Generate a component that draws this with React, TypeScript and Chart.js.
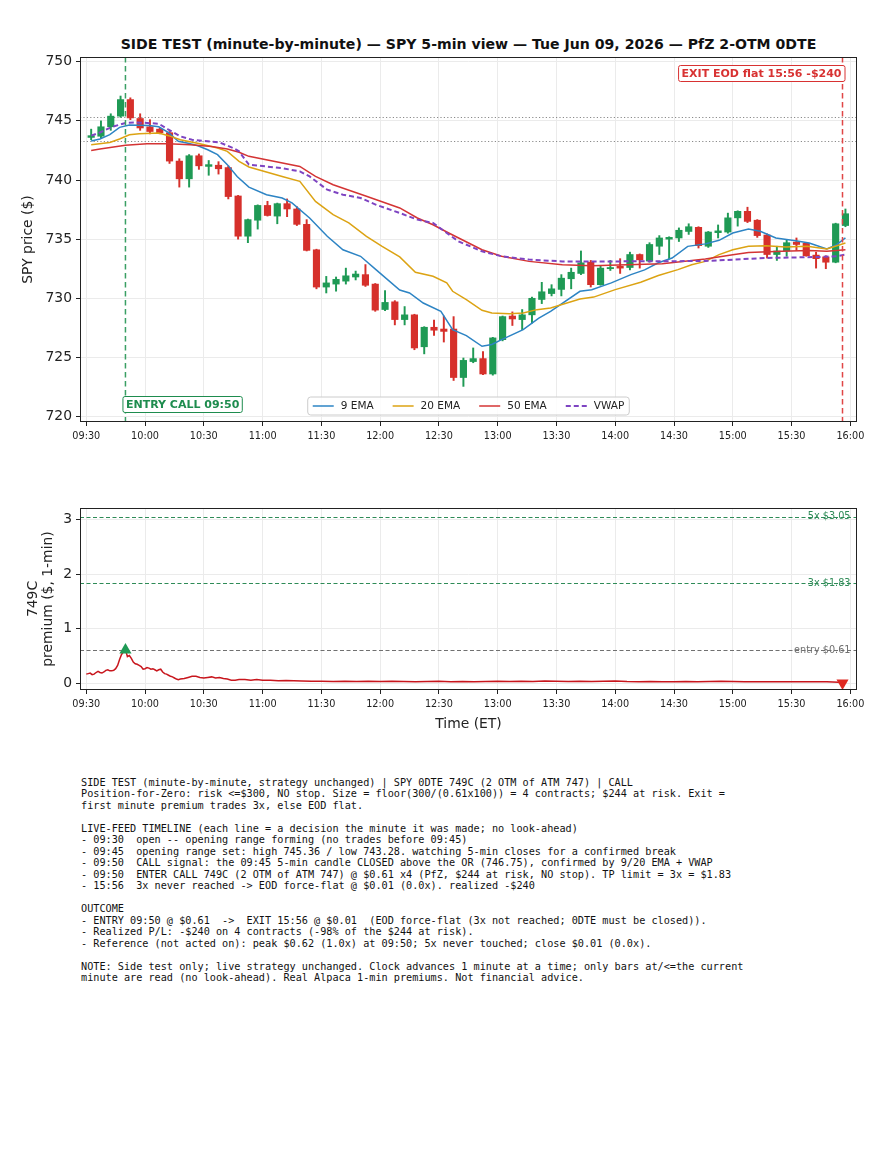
import React, { useEffect, useRef } from 'react';
import { Chart, registerables } from 'chart.js';

Chart.register(...registerables);

const FONT = "'DejaVu Sans', 'Liberation Sans', sans-serif";
const MONO = "'DejaVu Sans Mono', 'Liberation Mono', monospace";

const TITLE = 'SIDE TEST (minute-by-minute) — SPY 5-min view — Tue Jun 09, 2026 — PfZ 2-OTM 0DTE';

// ---- 5-min candles (bar start times) ----
const BAR_TIMES = [
  '09:30', '09:35', '09:40', '09:45', '09:50', '09:55', '10:00', '10:05', '10:10', '10:15', '10:20', '10:25',
  '10:30', '10:35', '10:40', '10:45', '10:50', '10:55', '11:00', '11:05', '11:10', '11:15', '11:20', '11:25',
  '11:30', '11:35', '11:40', '11:45', '11:50', '11:55', '12:00', '12:05', '12:10', '12:15', '12:20', '12:25',
  '12:30', '12:35', '12:40', '12:45', '12:50', '12:55', '13:00', '13:05', '13:10', '13:15', '13:20', '13:25',
  '13:30', '13:35', '13:40', '13:45', '13:50', '13:55', '14:00', '14:05', '14:10', '14:15', '14:20', '14:25',
  '14:30', '14:35', '14:40', '14:45', '14:50', '14:55', '15:00', '15:05', '15:10', '15:15', '15:20', '15:25',
  '15:30', '15:35', '15:40', '15:45', '15:50', '15:55',
];
const OPEN = [
  743.6, 743.7, 744.5, 745.4, 746.8, 745.2, 744.5, 744.3, 744.0, 741.6, 740.1, 742.05,
  741.15, 741.25, 741.05, 738.65, 735.25, 736.6, 737.85, 736.95, 738.0, 737.55, 736.25, 734.1,
  730.95, 731.2, 731.45, 731.8, 732.0, 731.2, 729.05, 729.7, 728.2, 728.6, 725.9, 727.55,
  727.4, 727.4, 723.3, 724.65, 724.9, 723.6, 726.5, 728.5, 728.2, 728.6, 729.9, 730.4,
  730.75, 731.65, 732.1, 733.05, 731.15, 732.5, 732.7, 732.6, 733.7, 733.15, 734.4, 735.0,
  735.1, 735.65, 736.0, 734.4, 735.55, 735.6, 736.8, 737.35, 736.6, 735.35, 733.7, 734.0,
  734.75, 734.65, 733.65, 733.5, 733.05, 736.15,
];
const HIGH = [
  744.3, 745.0, 745.6, 747.1, 746.95, 745.6, 745.1, 744.4, 744.1, 741.8, 742.15, 742.2,
  741.65, 741.55, 741.2, 738.7, 736.7, 737.9, 738.2, 738.05, 738.4, 737.75, 736.65, 734.15,
  731.85, 731.8, 732.55, 732.3, 732.85, 731.25, 730.65, 729.8, 729.3, 728.65, 727.6, 728.15,
  728.5, 728.45, 724.95, 725.8, 725.5, 726.7, 728.5, 728.85, 729.05, 730.1, 731.35, 731.15,
  732.0, 732.55, 734.0, 733.2, 732.7, 733.2, 733.35, 733.9, 733.75, 734.7, 735.3, 735.2,
  735.95, 736.3, 736.05, 735.65, 736.2, 737.2, 737.4, 737.7, 736.65, 735.45, 734.4, 734.95,
  735.1, 734.7, 733.9, 733.6, 736.35, 737.55,
];
const LOW = [
  743.4, 743.5, 744.2, 745.3, 745.1, 744.2, 743.9, 743.9, 741.4, 739.4, 739.4, 740.9,
  740.4, 740.5, 738.4, 735.0, 734.7, 735.85, 736.95, 736.3, 736.9, 736.15, 734.0, 730.8,
  730.45, 730.6, 731.2, 731.55, 731.0, 728.9, 728.95, 727.75, 727.75, 725.65, 725.3, 726.85,
  726.3, 723.05, 722.55, 724.55, 723.55, 723.5, 726.4, 727.7, 727.35, 727.9, 729.55, 730.2,
  730.2, 730.8, 732.0, 730.95, 731.1, 732.35, 732.1, 732.4, 732.55, 733.05, 733.7, 733.3,
  734.8, 735.4, 734.25, 734.3, 735.1, 735.5, 736.1, 736.4, 735.15, 733.4, 733.2, 733.55,
  734.05, 733.55, 732.55, 732.5, 733.0, 736.05,
];
const CLOSE = [
  743.75, 744.5, 745.4, 746.8, 745.25, 744.4, 744.1, 744.0, 741.6, 740.1, 742.05, 741.2,
  741.3, 740.95, 738.6, 735.25, 736.65, 737.85, 737.0, 738.0, 737.55, 736.25, 734.05, 730.95,
  731.3, 731.6, 731.9, 732.05, 731.1, 729.0, 729.65, 728.2, 728.6, 725.8, 727.55, 727.3,
  727.2, 723.3, 724.75, 724.9, 723.6, 726.65, 728.45, 728.25, 728.6, 730.0, 730.55, 730.8,
  731.7, 732.2, 733.0, 731.15, 732.55, 732.6, 732.55, 733.7, 733.25, 734.55, 735.1, 735.15,
  735.75, 736.05, 734.45, 735.6, 735.7, 736.8, 737.35, 736.5, 735.3, 733.7, 734.0, 734.7,
  734.55, 733.6, 733.35, 733.05, 736.3, 737.15,
];

// ---- indicator lines (minutes after 09:30, value) ----
const EMA9_T = [2.5, 7, 12, 17, 22, 27, 32, 37, 42, 47, 52, 57, 62, 67, 72, 77, 83, 92, 100, 105, 114, 123, 131, 140, 148, 160, 165, 172, 181, 187, 194, 202, 207, 212, 223, 231, 237, 252, 258, 268, 278, 285, 292, 299, 307, 316, 323, 330, 338, 344, 352, 362, 369, 378, 383, 387.5];
const EMA9_V = [743.3, 743.47, 743.83, 744.45, 744.65, 744.62, 744.6, 744.5, 744.0, 743.27, 743.1, 742.9, 742.56, 742.14, 741.3, 740.3, 739.4, 738.76, 738.48, 738.06, 736.79, 735.24, 734.1, 733.55, 732.4, 730.7, 730.45, 729.6, 728.9, 727.35, 726.85, 725.94, 726.1, 726.5, 727.35, 728.33, 728.9, 730.59, 730.73, 731.3, 732.0, 732.4, 733.0, 733.4, 734.39, 734.6, 734.9, 735.52, 735.86, 735.66, 735.1, 734.87, 734.68, 734.17, 734.53, 735.1];
const EMA20_T = [2.5, 12, 17, 22, 27, 37, 42, 48, 58, 67, 72, 78, 83, 100, 109, 117, 126, 134, 143, 151, 160, 168, 177, 184, 187, 194, 202, 207, 216, 223, 230, 237, 252, 259, 270, 283, 292, 302, 309, 316, 323, 330, 338, 347, 357, 368, 378, 387.5];
const EMA20_V = [742.98, 743.18, 743.47, 743.83, 743.92, 743.97, 743.75, 743.41, 743.07, 742.7, 742.42, 741.57, 741.1, 740.3, 739.89, 738.19, 737.07, 736.37, 735.24, 734.39, 733.5, 732.2, 731.86, 731.3, 730.59, 729.89, 728.98, 728.76, 728.7, 728.76, 729.04, 729.18, 729.94, 730.1, 730.73, 731.35, 731.92, 732.42, 732.84, 733.12, 733.69, 734.1, 734.39, 734.45, 734.34, 734.39, 734.17, 734.68];
const EMA50_T = [2.5, 7, 20, 31, 42, 53, 64, 72, 78, 83, 109, 117, 126, 143, 160, 169, 177, 185, 202, 212, 226, 243, 258, 276, 294, 316, 330, 338, 355, 369, 378, 387.5];
const EMA50_V = [742.5, 742.62, 742.93, 743.07, 743.07, 742.98, 742.84, 742.62, 742.34, 742.0, 741.15, 740.3, 739.6, 738.62, 737.64, 736.79, 736.22, 735.52, 734.1, 733.55, 733.12, 732.84, 732.76, 732.84, 732.93, 733.33, 733.69, 733.88, 733.97, 734.03, 733.97, 734.1];
const VWAP_T = [2.5, 7, 13, 20, 26, 37, 42, 48, 54, 68, 75, 78, 83, 100, 109, 114, 123, 131, 140, 148, 160, 169, 177, 184, 190, 202, 212, 226, 243, 272, 316, 347, 373, 383, 387.5];
const VWAP_V = [743.75, 744.02, 744.48, 744.82, 744.87, 744.76, 744.25, 743.69, 743.4, 743.18, 742.7, 742.42, 741.3, 741.0, 740.73, 740.3, 739.18, 738.76, 738.48, 737.9, 737.21, 736.65, 736.37, 735.52, 734.81, 733.97, 733.55, 733.27, 733.12, 733.12, 733.15, 733.41, 733.49, 733.55, 733.69];

// ---- option premium, 1-min (minutes after 09:30, $) ----
const PREM_T = [0, 1, 2, 3, 4, 5, 6, 7, 8, 9, 10, 11, 12, 13, 14, 15, 16, 17, 18, 19, 20, 21, 22, 23, 24, 25, 26, 27, 28, 29, 30, 31, 32, 33, 34, 35, 36, 37, 38, 39, 40, 41, 42, 43, 44, 45, 46, 47, 48, 50, 52, 54, 56, 58, 60, 62, 64, 66, 68, 70, 72, 74, 76, 78, 81, 84, 87, 90, 94, 98, 102, 106, 110, 115, 120, 126, 132, 138, 144, 150, 156, 162, 168, 174, 180, 186, 192, 198, 204, 210, 216, 222, 228, 234, 240, 246, 252, 258, 264, 270, 276, 282, 288, 294, 300, 306, 312, 318, 324, 330, 336, 342, 348, 354, 360, 366, 372, 378, 384, 386];
const PREM_V = [0.17, 0.18, 0.19, 0.16, 0.17, 0.2, 0.22, 0.2, 0.19, 0.21, 0.24, 0.25, 0.23, 0.23, 0.24, 0.27, 0.33, 0.44, 0.53, 0.58, 0.62, 0.49, 0.51, 0.46, 0.39, 0.36, 0.35, 0.33, 0.31, 0.26, 0.27, 0.29, 0.28, 0.26, 0.27, 0.25, 0.23, 0.25, 0.26, 0.21, 0.18, 0.17, 0.15, 0.13, 0.12, 0.1, 0.08, 0.07, 0.08, 0.09, 0.11, 0.13, 0.13, 0.11, 0.1, 0.11, 0.12, 0.1, 0.11, 0.09, 0.08, 0.06, 0.06, 0.07, 0.07, 0.06, 0.07, 0.06, 0.06, 0.05, 0.055, 0.05, 0.045, 0.04, 0.04, 0.035, 0.04, 0.035, 0.04, 0.035, 0.04, 0.035, 0.03, 0.035, 0.04, 0.03, 0.035, 0.03, 0.035, 0.04, 0.035, 0.04, 0.035, 0.045, 0.04, 0.035, 0.04, 0.035, 0.04, 0.045, 0.035, 0.03, 0.035, 0.03, 0.03, 0.035, 0.03, 0.035, 0.04, 0.035, 0.03, 0.03, 0.03, 0.03, 0.03, 0.03, 0.03, 0.03, 0.02, 0.01];

// ---- ticks & reference levels ----
const TIME_TICKS = ['09:30', '10:00', '10:30', '11:00', '11:30', '12:00', '12:30', '13:00', '13:30', '14:00', '14:30', '15:00', '15:30', '16:00'];
const PRICE_TICKS = [720, 725, 730, 735, 740, 745, 750];
const PREM_TICKS = [0, 1, 2, 3];
const OR_HIGH = 745.36;
const OR_LOW = 743.28;
const ENTRY_TIME = '09:50';
const EXIT_TIME = '15:56';
const ENTRY_PREM = 0.61;
const EXIT_PREM = 0.01;
const TARGETS = [
  { value: 3.05, label: '5x $3.05', color: '#2e8b57' },
  { value: 1.83, label: '3x $1.83', color: '#2e8b57' },
  { value: 0.61, label: 'entry $0.61', color: '#707070' },
];

const NOTES = [
  'SIDE TEST (minute-by-minute, strategy unchanged) | SPY 0DTE 749C (2 OTM of ATM 747) | CALL',
  'Position-for-Zero: risk <=$300, NO stop. Size = floor(300/(0.61x100)) = 4 contracts; $244 at risk. Exit =',
  'first minute premium trades 3x, else EOD flat.',
  '',
  'LIVE-FEED TIMELINE (each line = a decision the minute it was made; no look-ahead)',
  '- 09:30  open -- opening range forming (no trades before 09:45)',
  '- 09:45  opening range set: high 745.36 / low 743.28. watching 5-min closes for a confirmed break',
  '- 09:50  CALL signal: the 09:45 5-min candle CLOSED above the OR (746.75), confirmed by 9/20 EMA + VWAP',
  '- 09:50  ENTER CALL 749C (2 OTM of ATM 747) @ $0.61 x4 (PfZ, $244 at risk, NO stop). TP limit = 3x = $1.83',
  '- 15:56  3x never reached -> EOD force-flat @ $0.01 (0.0x). realized -$240',
  '',
  'OUTCOME',
  '- ENTRY 09:50 @ $0.61  ->  EXIT 15:56 @ $0.01  (EOD force-flat (3x not reached; 0DTE must be closed)).',
  '- Realized P/L: -$240 on 4 contracts (-98% of the $244 at risk).',
  '- Reference (not acted on): peak $0.62 (1.0x) at 09:50; 5x never touched; close $0.01 (0.0x).',
  '',
  'NOTE: Side test only; live strategy unchanged. Clock advances 1 minute at a time; only bars at/<=the current',
  'minute are read (no look-ahead). Real Alpaca 1-min premiums. Not financial advice.',
];

// ---- styling ----
const GREEN = '#1f9a55';
const RED = '#d6302b';
const C9 = '#2d84c4';
const C20 = '#dca313';
const C50 = '#d43434';
const CVWAP = '#7e44c2';
const GRID = '#ebebeb';
const INK = '#222';
const X_MIN = -3.2;
const X_MAX = 393.4;

const toMin = (s: string) => {
  const [h, m] = s.split(':').map(Number);
  return h * 60 + m - (9 * 60 + 30);
};
const fmt = (v: number) => {
  const t = Math.round(9 * 60 + 30 + v);
  const h = Math.floor(t / 60);
  const m = t % 60;
  return `${String(h).padStart(2, '0')}:${String(m).padStart(2, '0')}`;
};
const pts = (t: number[], v: number[]) => t.map((x, i) => ({ x, y: v[i] }));

function roundRect(ctx: CanvasRenderingContext2D, x: number, y: number, w: number, h: number, r: number) {
  ctx.beginPath();
  ctx.moveTo(x + r, y);
  ctx.lineTo(x + w - r, y);
  ctx.quadraticCurveTo(x + w, y, x + w, y + r);
  ctx.lineTo(x + w, y + h - r);
  ctx.quadraticCurveTo(x + w, y + h, x + w - r, y + h);
  ctx.lineTo(x + r, y + h);
  ctx.quadraticCurveTo(x, y + h, x, y + h - r);
  ctx.lineTo(x, y + r);
  ctx.quadraticCurveTo(x, y, x + r, y);
  ctx.closePath();
}

function xScale(height: number, title?: any) {
  return {
    type: 'linear',
    min: X_MIN,
    max: X_MAX,
    offset: false,
    afterBuildTicks: (s: any) => {
      s.ticks = TIME_TICKS.map((t) => ({ value: toMin(t) }));
    },
    afterFit: (s: any) => {
      s.height = height;
    },
    ticks: {
      callback: (v: any) => fmt(Number(v)),
      font: { size: 9.7, family: FONT },
      color: INK,
      padding: 5,
      maxRotation: 0,
      autoSkip: false,
    },
    grid: { color: GRID, tickColor: INK, tickLength: 4, offset: false },
    border: { display: false },
    title: title || { display: false },
  };
}

function yScale(min: number, max: number, tickVals: number[], title: any) {
  return {
    type: 'linear',
    min,
    max,
    afterBuildTicks: (s: any) => {
      s.ticks = tickVals.map((v) => ({ value: v }));
    },
    afterFit: (s: any) => {
      s.width = 80;
    },
    ticks: {
      callback: (v: any) => String(v),
      font: { size: 13.9, family: FONT },
      color: INK,
      padding: 4,
    },
    grid: { color: GRID, tickColor: INK, tickLength: 4 },
    border: { display: false },
    title,
  };
}

const topPlugin = {
  id: 'topDecor',
  beforeDatasetsDraw(chart: any) {
    const { ctx, chartArea: ca, scales } = chart;
    ctx.save();
    ctx.strokeStyle = '#8a8a8a';
    ctx.lineWidth = 1.1;
    ctx.setLineDash([1.2, 2.2]);
    [OR_HIGH, OR_LOW].forEach((v) => {
      const y = Math.round(scales.y.getPixelForValue(v)) + 0.5;
      ctx.beginPath();
      ctx.moveTo(ca.left, y);
      ctx.lineTo(ca.right, y);
      ctx.stroke();
    });
    ctx.restore();
  },
  afterDatasetsDraw(chart: any) {
    const { ctx, chartArea: ca, scales } = chart;
    const xe = scales.x.getPixelForValue(toMin(ENTRY_TIME));
    const xx = scales.x.getPixelForValue(toMin(EXIT_TIME));
    ctx.save();
    ctx.lineWidth = 1.5;
    ctx.setLineDash([5.5, 3.5]);
    ctx.strokeStyle = '#3a9f64';
    ctx.beginPath();
    ctx.moveTo(xe, ca.top);
    ctx.lineTo(xe, ca.bottom);
    ctx.stroke();
    ctx.strokeStyle = '#e04646';
    ctx.beginPath();
    ctx.moveTo(xx, ca.top);
    ctx.lineTo(xx, ca.bottom);
    ctx.stroke();
    ctx.setLineDash([]);

    // frame
    ctx.strokeStyle = INK;
    ctx.lineWidth = 1;
    ctx.strokeRect(ca.left + 0.5, ca.top + 0.5, ca.right - ca.left - 1, ca.bottom - ca.top - 1);

    // annotation boxes
    ctx.font = `bold 11px ${FONT}`;
    ctx.textBaseline = 'middle';
    const entryTxt = `ENTRY CALL ${ENTRY_TIME}`;
    const ew = ctx.measureText(entryTxt).width;
    const ey = ca.bottom - 17.5;
    roundRect(ctx, xe - 2.5, ey - 8, ew + 6, 16, 2);
    ctx.fillStyle = '#ffffff';
    ctx.fill();
    ctx.strokeStyle = '#1e8c4e';
    ctx.lineWidth = 1;
    ctx.stroke();
    ctx.fillStyle = '#1e8c4e';
    ctx.textAlign = 'left';
    ctx.fillText(entryTxt, xe + 0.5, ey + 0.5);

    const exitTxt = `EXIT EOD flat ${EXIT_TIME} -$240`;
    const xw = ctx.measureText(exitTxt).width;
    const xy = ca.top + 16.5;
    roundRect(ctx, xx - xw - 4, xy - 8, xw + 6.5, 16, 2);
    ctx.fillStyle = '#ffffff';
    ctx.fill();
    ctx.strokeStyle = '#d83232';
    ctx.stroke();
    ctx.fillStyle = '#d83232';
    ctx.textAlign = 'right';
    ctx.fillText(exitTxt, xx - 1, xy + 0.5);

    // legend
    const items = chart.data.datasets.filter((d: any) => d.type === 'line');
    ctx.font = `10.5px ${FONT}`;
    const sample = 21;
    const gapT = 7;
    const gapE = 19;
    const padX = 5;
    const widths = items.map((d: any) => sample + gapT + ctx.measureText(d.label).width);
    const total = widths.reduce((a: number, b: number) => a + b, 0) + gapE * (items.length - 1) + 2 * padX;
    const bx = (ca.left + ca.right) / 2 - total / 2;
    const bh = 18;
    const by = ca.bottom - 7 - bh;
    roundRect(ctx, bx, by, total, bh, 3);
    ctx.fillStyle = 'rgba(255,255,255,0.85)';
    ctx.fill();
    ctx.strokeStyle = '#cccccc';
    ctx.lineWidth = 1;
    ctx.stroke();
    let cx = bx + padX;
    const cy = by + bh / 2;
    items.forEach((d: any, i: number) => {
      ctx.strokeStyle = d.borderColor;
      ctx.lineWidth = d.borderWidth;
      ctx.setLineDash(d.borderDash || []);
      ctx.beginPath();
      ctx.moveTo(cx, cy);
      ctx.lineTo(cx + sample, cy);
      ctx.stroke();
      ctx.setLineDash([]);
      ctx.fillStyle = INK;
      ctx.textAlign = 'left';
      ctx.fillText(d.label, cx + sample + gapT, cy + 0.5);
      cx += widths[i] + gapE;
    });
    ctx.restore();
  },
};

const botPlugin = {
  id: 'botDecor',
  beforeDatasetsDraw(chart: any) {
    const { ctx, chartArea: ca, scales } = chart;
    ctx.save();
    ctx.lineWidth = 1.1;
    ctx.setLineDash([4, 2.5]);
    TARGETS.forEach((t) => {
      const y = Math.round(scales.y.getPixelForValue(t.value)) + 0.5;
      ctx.strokeStyle = t.color;
      ctx.beginPath();
      ctx.moveTo(ca.left, y);
      ctx.lineTo(ca.right, y);
      ctx.stroke();
    });
    ctx.setLineDash([]);
    ctx.font = `9.7px ${FONT}`;
    ctx.textAlign = 'right';
    ctx.textBaseline = 'middle';
    TARGETS.forEach((t) => {
      const y = scales.y.getPixelForValue(t.value);
      ctx.fillStyle = t.color;
      ctx.fillText(t.label, ca.right - 6.5, y);
    });
    ctx.restore();
  },
  afterDatasetsDraw(chart: any) {
    const { ctx, chartArea: ca } = chart;
    ctx.save();
    ctx.strokeStyle = INK;
    ctx.lineWidth = 1;
    ctx.strokeRect(ca.left + 0.5, ca.top + 0.5, ca.right - ca.left - 1, ca.bottom - ca.top - 1);
    ctx.restore();
  },
};

function topConfig(): any {
  const cx = BAR_TIMES.map((t) => toMin(t) + 2.5);
  const colors = CLOSE.map((c, i) => (c >= OPEN[i] ? GREEN : RED));
  return {
    type: 'bar',
    data: {
      datasets: [
        { type: 'line', label: '9 EMA', data: pts(EMA9_T, EMA9_V), borderColor: C9, borderWidth: 1.5, pointRadius: 0, tension: 0, order: 3 },
        { type: 'line', label: '20 EMA', data: pts(EMA20_T, EMA20_V), borderColor: C20, borderWidth: 1.5, pointRadius: 0, tension: 0, order: 2 },
        { type: 'line', label: '50 EMA', data: pts(EMA50_T, EMA50_V), borderColor: C50, borderWidth: 1.5, pointRadius: 0, tension: 0, order: 1 },
        { type: 'line', label: 'VWAP', data: pts(VWAP_T, VWAP_V), borderColor: CVWAP, borderWidth: 2, borderDash: [5, 3], pointRadius: 0, tension: 0, order: 0 },
        { type: 'bar', label: 'body', data: cx.map((x, i) => ({ x, y: [OPEN[i], CLOSE[i]] })), backgroundColor: colors, borderWidth: 0, barThickness: 6.5, grouped: false, order: 10 },
        { type: 'bar', label: 'wick', data: cx.map((x, i) => ({ x, y: [LOW[i], HIGH[i]] })), backgroundColor: colors, borderWidth: 0, barThickness: 1.3, grouped: false, order: 11 },
      ],
    },
    options: {
      animation: false,
      responsive: false,
      devicePixelRatio: 1,
      events: [],
      layout: { padding: { top: 57, right: 36, bottom: 0, left: 0 } },
      plugins: { legend: { display: false }, tooltip: { enabled: false }, title: { display: false } },
      scales: {
        x: xScale(48),
        y: yScale(719.54, 750.4, PRICE_TICKS, {
          display: true,
          text: 'SPY price ($)',
          font: { size: 13.9, family: FONT },
          color: INK,
          padding: { top: 19.7, bottom: 0 },
        }),
      },
    },
    plugins: [topPlugin],
  };
}

function botConfig(): any {
  return {
    type: 'line',
    data: {
      datasets: [
        { label: 'premium', data: pts(PREM_T, PREM_V), borderColor: '#c8161d', borderWidth: 1.5, pointRadius: 0, tension: 0, order: 2 },
        { label: 'entry', data: [{ x: toMin(ENTRY_TIME), y: ENTRY_PREM }], showLine: false, pointStyle: 'triangle', pointRadius: 7, pointBackgroundColor: GREEN, pointBorderColor: GREEN, pointBorderWidth: 0, order: 0 },
        { label: 'exit', data: [{ x: toMin(EXIT_TIME), y: EXIT_PREM }], showLine: false, pointStyle: 'triangle', pointRotation: 180, pointRadius: 7, pointBackgroundColor: '#e02a22', pointBorderColor: '#e02a22', pointBorderWidth: 0, order: 1 },
      ],
    },
    options: {
      animation: false,
      responsive: false,
      devicePixelRatio: 1,
      events: [],
      layout: { padding: { top: 38, right: 36, bottom: 0, left: 0 } },
      plugins: { legend: { display: false }, tooltip: { enabled: false }, title: { display: false } },
      scales: {
        x: xScale(60, {
          display: true,
          text: 'Time (ET)',
          font: { size: 13.9, family: FONT },
          color: INK,
          padding: { top: 0, bottom: 17.7 },
        }),
        y: yScale(-0.12, 3.21, PREM_TICKS, {
          display: true,
          text: ['749C', 'premium ($, 1-min)'],
          font: { size: 13.9, family: FONT, lineHeight: 1.1 },
          color: INK,
          padding: { top: 25.4, bottom: 0 },
        }),
      },
    },
    plugins: [botPlugin],
  };
}

export default function App() {
  const topRef = useRef<HTMLCanvasElement>(null);
  const botRef = useRef<HTMLCanvasElement>(null);
  useEffect(() => {
    const c1 = new Chart(topRef.current as HTMLCanvasElement, topConfig());
    const c2 = new Chart(botRef.current as HTMLCanvasElement, botConfig());
    return () => {
      c1.destroy();
      c2.destroy();
    };
  }, []);
  return (
    <div style={{ position: 'absolute', left: 0, top: 0, width: 893, height: 1155, background: '#ffffff', overflow: 'hidden' }}>
      <div
        style={{
          position: 'absolute',
          left: 80,
          width: 777,
          top: 36,
          textAlign: 'center',
          font: `bold 14.1px ${FONT}`,
          lineHeight: '16px',
          color: '#111',
          whiteSpace: 'nowrap',
        }}
      >
        {TITLE}
      </div>
      <canvas ref={topRef} width={893} height={470} style={{ position: 'absolute', left: 0, top: 0, width: 893, height: 470 }} />
      <canvas ref={botRef} width={893} height={280} style={{ position: 'absolute', left: 0, top: 470, width: 893, height: 280 }} />
      <pre
        style={{
          position: 'absolute',
          left: 81,
          top: 776.75,
          margin: 0,
          font: `10.2px/11.5px ${MONO}`,
          color: '#111',
        }}
      >
        {NOTES.join('\n')}
      </pre>
    </div>
  );
}
